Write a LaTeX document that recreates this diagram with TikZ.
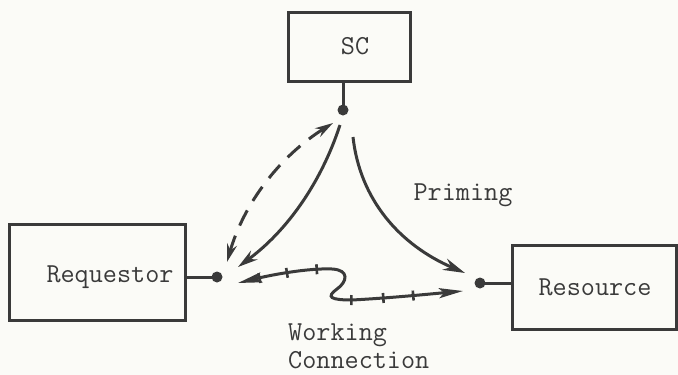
\documentclass[tikz,border=0pt]{standalone}
\usepackage{fontspec}
\usetikzlibrary{arrows.meta,decorations.markings}
\definecolor{ink}{HTML}{3A3A3A}
\definecolor{paper}{HTML}{FBFBF7}
\tikzset{
  box/.style={draw=ink, line width=3pt, minimum width=#1, inner sep=0pt},
  lbl/.style={font=\ttfamily\fontsize{27.4}{28}\selectfont, text=ink, inner sep=0pt},
  dot/.style={circle, fill=ink, minimum size=11pt, inner sep=0pt},
  stem/.style={draw=ink, line width=3pt},
  conn/.style={draw=ink, line width=3pt},
  tk/.style={draw=ink, line width=2.6pt, arrows=-},
  ticks/.style={postaction={decorate, decoration={markings,
      mark=at position 22pt with {\draw[tk] (0,-5) -- (0,5);},
      mark=at position 50pt with {\draw[tk] (0,-5) -- (0,5);},
      mark=at position 80pt with {\draw[tk] (0,-5) -- (0,5);},
      mark=at position -112pt with {\draw[tk] (0,-5) -- (0,5);},
      mark=at position -80pt with {\draw[tk] (0,-5) -- (0,5);},
      mark=at position -50pt with {\draw[tk] (0,-5) -- (0,5);}}}}
}
\begin{document}
\begin{tikzpicture}[x=1pt,y=-1pt]
\fill[paper] (0,0) rectangle (678,375);
\useasboundingbox (0,0) rectangle (678,375);
% boxes
\node[box=122pt, minimum height=69pt] (sc) at (349,46.5) {};
\node[box=176pt, minimum height=96pt] (rq) at (97,272) {};
\node[box=164pt, minimum height=84pt] (rs) at (594,287) {};
\node[lbl] (sct) at (355,46) {SC};
\node[lbl] (rqt) at (110,277) {Requestor};
\node[lbl] (rst) at (595,287) {Resource};
% ports
\node[dot] (scd) at (343,110) {};
\node[dot] (rqd) at (217,277) {};
\node[dot] (rsd) at (480,283) {};
\draw[stem] (scd.center) -- (scd.center |- sc.south);
\draw[stem] (rqd.center) -- (rqd.center -| rq.east);
\draw[stem] (rsd.center) -- (rsd.center -| rs.west);
% free ends
\coordinate (da) at (227,262);
\coordinate (db) at (333,123);
\coordinate (sa) at (340,125);
\coordinate (sb) at (238,267);
\coordinate (pa) at (353,137);
\coordinate (pb) at (465,273);
\coordinate (wa) at (238,283);
\coordinate (wb) at (463,291);
% dashed request
\draw[conn, dash pattern=on 17pt off 11pt, {Stealth[length=18pt,width=10pt]}-{Stealth[length=18pt,width=10pt]}]
  (da) .. controls (244,203) and (280,156) .. (db);
% SC to requestor
\draw[conn, -{Stealth[length=20pt,width=11pt]}] (sa) .. controls (321,183) and (287,231) .. (sb);
% priming
\draw[conn, -{Stealth[length=22pt,width=12pt]}] (pa) .. controls (360,200) and (400,245) .. (pb);
% working connection
\draw[conn, ticks, {Stealth[length=24pt,width=10pt,inset=5pt]}-{Stealth[length=24pt,width=10pt,inset=5pt]}]
  (wa) .. controls (275,274) and (310,268) .. (332,269)
  .. controls (350,270) and (347,282) .. (337,289)
  .. controls (326,297) and (330,300) .. (352,300)
  .. controls (390,298) and (430,294) .. (wb);
% labels
\node[lbl] (prim) at (463,195) {Priming};
\node[lbl, align=left, anchor=west] (work) at (288,346) {Working\\Connection};
\end{tikzpicture}
\end{document}
